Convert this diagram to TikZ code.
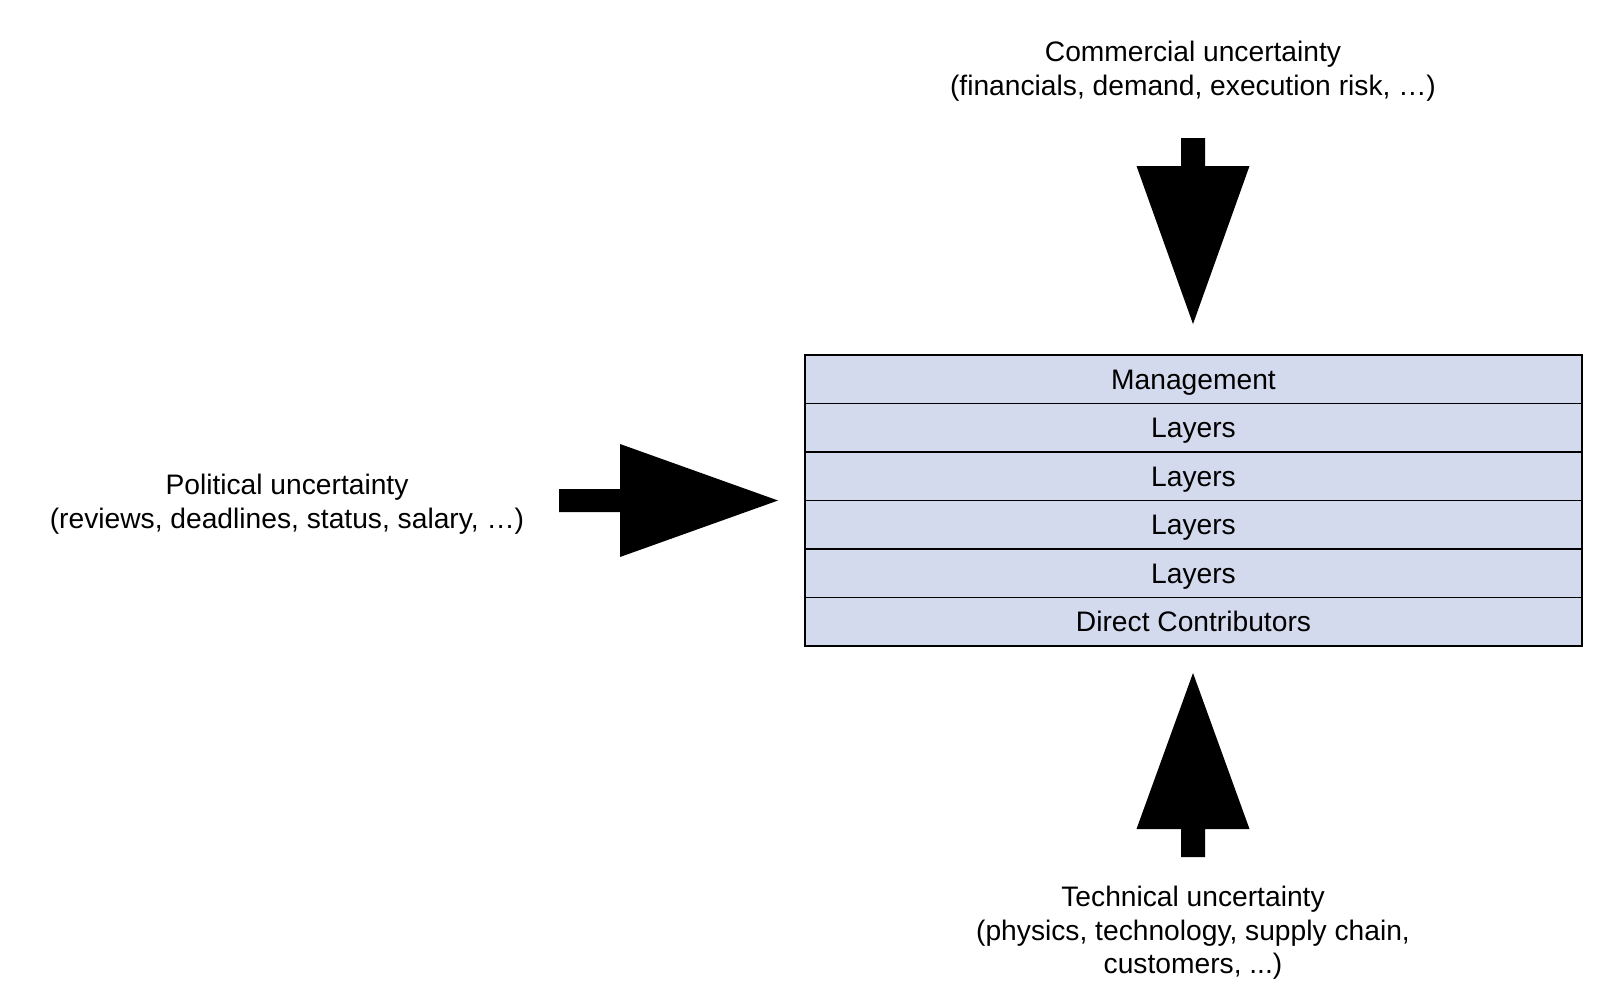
\documentclass[tikz,border=0pt]{standalone}
\usepackage{fontspec}
\setmainfont{Liberation Sans}
\definecolor{layerfill}{RGB}{211,218,238}
\begin{document}
\begin{tikzpicture}[x=1pt,y=-1pt,
  lbl/.style={font=\fontsize{28.2}{33.5}\selectfont, align=center, inner sep=0pt},
  layer/.style={draw=black, line width=1.3pt, fill=layerfill, minimum width=777pt, minimum height=48.5pt, inner sep=0pt, outer sep=0pt, anchor=north, text height=25.5pt, text depth=6pt, font=\fontsize{28.2}{33.5}\selectfont},
  bigarrow/.style={fill=black, draw=none}]
\useasboundingbox[fill=white] (0,0) rectangle (1600,989);
% stacked layers
\node[layer] (r1) at (1193.5,355) {Management};
\node[layer] (r2) at (r1.south) {Layers};
\node[layer] (r3) at (r2.south) {Layers};
\node[layer] (r4) at (r3.south) {Layers};
\node[layer] (r5) at (r4.south) {Layers};
\node[layer] (r6) at (r5.south) {Direct Contributors};
% labels
\node[lbl] (com) at (1193,71) {Commercial uncertainty\\(financials, demand, execution risk, \dots)};
\node[lbl] (pol) at (287,504) {Political uncertainty\\(reviews, deadlines, status, salary, \dots)};
\node[lbl] (tec) at (1193,933) {Technical uncertainty\\(physics, technology, supply chain,\\customers, ...)};
% arrow anchor coordinates
\coordinate (ttip) at (1193,324);
\coordinate (ltip) at (778,500.5);
\coordinate (btip) at (1193,673);
% top arrow
\fill[bigarrow] ([xshift=-12]ttip |- 0,138) -- ([xshift=12]ttip |- 0,138) -- ([xshift=12]ttip |- 0,166)
  -- ([xshift=56.5]ttip |- 0,166) -- (ttip) -- ([xshift=-56.5]ttip |- 0,166) -- ([xshift=-12]ttip |- 0,166) -- cycle;
% left arrow
\fill[bigarrow] (559,489) -- (620,489) -- (620,444) -- (ltip) -- (620,557) -- (620,512) -- (559,512) -- cycle;
% bottom arrow
\fill[bigarrow] ([xshift=-12]btip |- 0,857) -- ([xshift=12]btip |- 0,857) -- ([xshift=12]btip |- 0,829)
  -- ([xshift=56.5]btip |- 0,829) -- (btip) -- ([xshift=-56.5]btip |- 0,829) -- ([xshift=-12]btip |- 0,829) -- cycle;
\end{tikzpicture}
\end{document}
